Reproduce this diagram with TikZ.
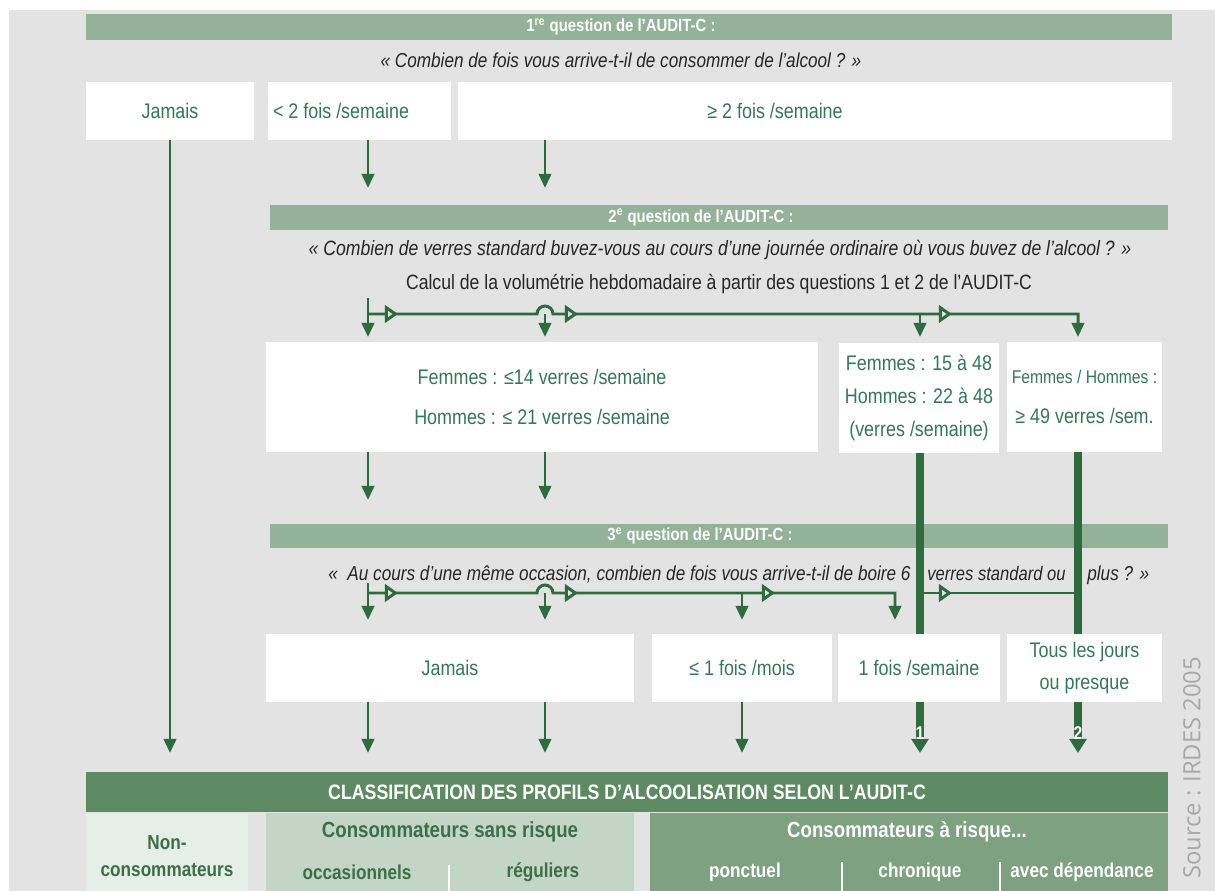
\documentclass[tikz,border=0pt]{standalone}
\usepackage{fontspec}
\setmainfont{Liberation Sans}[FakeStretch=0.85]
\newfontfamily\policesource{Open Sans}
\usetikzlibrary{arrows.meta,decorations.markings}

\definecolor{fond}{HTML}{E2E3E2}
\definecolor{bandeauclair}{HTML}{93B298}
\definecolor{bandeaufonce}{HTML}{5D8A62}
\definecolor{vertfleche}{HTML}{2F6B3F}
\definecolor{verttexte}{HTML}{35775A}
\definecolor{vertbas}{HTML}{3C6E48}
\definecolor{vertpale}{HTML}{E5EFE7}
\definecolor{vertmoyen}{HTML}{C3D6C6}
\definecolor{vertrisque}{HTML}{7DA181}
\definecolor{gristexte}{HTML}{A8A8A8}

\tikzset{
    texteboite/.style={text=verttexte, inner sep=0pt, align=center, font=\fontsize{12}{18}\selectfont},
    boite/.style={rectangle, fill=white, texteboite},
    textebandeau/.style={text=white, inner sep=0pt, font=\fontsize{10}{12}\selectfont\bfseries},
    bandeau/.style={rectangle, fill=bandeauclair, inner sep=0pt},
    question/.style={inner sep=0pt, text=black!85, font=\fontsize{11.5}{13}\selectfont\itshape},
    fleche/.style={draw=vertfleche, line width=1.7pt, -{Triangle[length=8pt,width=7pt]}},
    ligne/.style={draw=vertfleche, line width=1.7pt},
    barre/.style={draw=vertfleche, line width=4.6pt, -{Triangle[length=8pt,width=9.5pt]}},
    pointe/.style={postaction={decorate, decoration={markings,
        mark=at position #1 with {\arrow{Triangle[length=7.5pt,width=10pt,fill=fond]}}}}},
    textebas/.style={inner sep=0pt, align=center, font=\fontsize{11.5}{15}\selectfont\bfseries},
    separateur/.style={draw=white, line width=1.2pt}
}

\begin{document}
\begin{tikzpicture}[x=0.02cm, y=-0.02cm]
    \useasboundingbox (0,0) rectangle (1215,891);
    \fill[fond] (9,10) rectangle (1215,891);

    % colonnes et niveaux
    \coordinate (colJ) at (170,0);
    \coordinate (colA) at (368,0);
    \coordinate (colB) at (545,0);
    \coordinate (colC) at (742,0);
    \coordinate (colG) at (895,0);
    \coordinate (colD) at (920,0);
    \coordinate (colE) at (1078,0);
    \coordinate (pointeA) at (0,188);
    \coordinate (hautB) at (0,298);
    \coordinate (nivB) at (0,314);
    \coordinate (pointeB) at (0,337);
    \coordinate (pointeC) at (0,500);
    \coordinate (hautC) at (0,583);
    \coordinate (nivC) at (0,593);
    \coordinate (pointeD) at (0,620);
    \coordinate (pointeE) at (0,753);

    % 1re question
    \path node[bandeau, minimum width=21.72cm, minimum height=0.52cm,
            label={[textebandeau, xshift=-0.16cm]center:{1\textsuperscript{re} question de l'AUDIT-C :}}] (titreA) at (629,27) {}
        node[question] (questA) at (621,60) {« Combien de fois vous arrive-t-il de consommer de l'alcool ? »}
        node[boite, minimum width=3.36cm, minimum height=1.16cm] (jamaisA) at (170,111) {Jamais}
        node[boite, minimum width=3.66cm, minimum height=1.16cm,
            label={[texteboite, xshift=-0.37cm]center:{< 2 fois /semaine}}] (moinsA) at (359.5,111) {}
        node[boite, minimum width=14.28cm, minimum height=1.16cm,
            label={[texteboite, xshift=-0.8cm]center:{≥ 2 fois /semaine}}] (plusA) at (815,111) {};
    \draw[fleche] (moinsA.south -| colA) -- (colA |- pointeA);
    \draw[fleche] (plusA.south -| colB) -- (colB |- pointeA);

    % 2e question
    \path node[bandeau, minimum width=17.96cm, minimum height=0.5cm,
            label={[textebandeau, xshift=-0.36cm]center:{2\textsuperscript{e} question de l'AUDIT-C :}}] (titreB) at (719,217.5) {}
        node[question, font=\fontsize{11.8}{13}\selectfont\itshape] (questB) at (720,250) {« Combien de verres standard buvez-vous au cours d'une journée ordinaire où vous buvez de l'alcool ? »}
        node[question, font=\fontsize{11.8}{13}\selectfont] (calcul) at (719,284) {Calcul de la volumétrie hebdomadaire à partir des questions 1 et 2 de l'AUDIT-C};
    \draw[fleche] (colA |- hautB) -- (colA |- pointeB);
    \draw[fleche, pointe=0.6cm, pointe=4.383cm, pointe=11.863cm] (colA |- nivB)
        -- ([xshift=-0.16cm]colB |- nivB) arc[start angle=180, end angle=0, radius=0.16cm]
        -- (colE |- nivB) -- (colE |- pointeB);
    \draw[fleche] (colB |- nivB) -- (colB |- pointeB);
    \draw[fleche] (colD |- nivB) -- (colD |- pointeB);
    \path node[boite, minimum width=11.04cm, minimum height=2.2cm, font=\fontsize{12}{22.7}\selectfont] (faibleB) at (542,397)
            {Femmes : ≤14 verres /semaine\\Hommes : ≤ 21 verres /semaine}
        node[boite, minimum width=3.22cm, minimum height=2.2cm, font=\fontsize{12}{18.7}\selectfont] (moyenB) at (919,398)
            {Femmes : 15 à 48\\Hommes : 22 à 48\\(verres /semaine)}
        node[boite, minimum width=3.1cm, minimum height=2.2cm, font=\fontsize{12}{22.7}\selectfont] (fortB) at (1084.5,397)
            {{\fontsize{10.5}{12}\selectfont Femmes / Hommes :}\\≥ 49 verres /sem.};
    \draw[fleche] (faibleB.south -| colA) -- (colA |- pointeC);
    \draw[fleche] (faibleB.south -| colB) -- (colB |- pointeC);

    % 3e question
    \path node[bandeau, minimum width=17.96cm, minimum height=0.48cm,
            label={[textebandeau, xshift=-0.38cm]center:{3\textsuperscript{e} question de l'AUDIT-C :}}] (titreC) at (719,536) {}
        node[question, anchor=base east] (questCa) at (911,581) {«\ \ Au cours d'une même occasion, combien de fois vous arrive-t-il de boire 6}
        node[question, anchor=base west, font=\fontsize{11.1}{13}\selectfont\itshape] (questCb) at (927,581) {verres standard ou}
        node[question, anchor=base west] (questCc) at (1087,581) {plus ? »};
    \draw[fleche] (colA |- hautC) -- (colA |- pointeD);
    \draw[fleche, pointe=0.6cm, pointe=4.383cm, pointe=8.323cm] (colA |- nivC)
        -- ([xshift=-0.16cm]colB |- nivC) arc[start angle=180, end angle=0, radius=0.16cm]
        -- (colG |- nivC) -- (colG |- pointeD);
    \draw[fleche] (colB |- nivC) -- (colB |- pointeD);
    \draw[fleche] (colC |- nivC) -- (colC |- pointeD);
    \draw[ligne, pointe=0.64cm] (colD |- nivC) -- (colE |- nivC);

    % barres 1 et 2
    \draw[barre] (moyenB.south -| colD) -- (colD |- pointeE);
    \draw[barre] (fortB.south -| colE) -- (colE |- pointeE);

    \path node[boite, minimum width=7.36cm, minimum height=1.36cm] (jamaisC) at (450,668) {Jamais}
        node[boite, minimum width=3.6cm, minimum height=1.36cm] (moisC) at (742,668) {≤ 1 fois /mois}
        node[boite, minimum width=3.24cm, minimum height=1.36cm] (semC) at (919,668) {1 fois /semaine}
        node[boite, minimum width=3.1cm, minimum height=1.36cm, font=\fontsize{12}{18.7}\selectfont] (joursC) at (1084.5,668) {Tous les jours\\ou presque}
        node[inner sep=0pt, text=white, font=\fontsize{10.5}{12}\selectfont\bfseries] (un) at (920,733) {1}
        node[inner sep=0pt, text=white, font=\fontsize{10.5}{12}\selectfont\bfseries] (deux) at (1078,733) {2};
    \draw[fleche] (jamaisA.south) -- (colJ |- pointeE);
    \draw[fleche] (jamaisC.south -| colA) -- (colA |- pointeE);
    \draw[fleche] (jamaisC.south -| colB) -- (colB |- pointeE);
    \draw[fleche] (moisC.south) -- (colC |- pointeE);

    % classification
    \path node[rectangle, fill=bandeaufonce, minimum width=21.64cm, minimum height=0.8cm, inner sep=0pt,
            text=white, font=\fontsize{11.9}{13}\selectfont\bfseries] (classif) at (627,792)
            {CLASSIFICATION DES PROFILS D'ALCOOLISATION SELON L'AUDIT-C}
        node[rectangle, fill=vertpale, minimum width=3.24cm, minimum height=1.56cm] (nonD) at (167,852) {}
        node[rectangle, fill=vertmoyen, minimum width=7.36cm, minimum height=1.56cm] (sansD) at (450,852) {}
        node[rectangle, fill=vertrisque, minimum width=10.36cm, minimum height=1.56cm] (risqueD) at (909,852) {}
        node[textebas, text=vertbas, font=\fontsize{11.5}{15.3}\selectfont\bfseries] (nonT) at (167,856) {Non-\\consommateurs}
        node[textebas, text=vertbas, font=\fontsize{12.5}{15}\selectfont\bfseries] (sansT) at (450,832) {Consommateurs sans risque}
        node[textebas, text=vertbas] (occT) at (357,872) {occasionnels}
        node[textebas, text=vertbas] (regT) at (543,872) {réguliers}
        node[textebas, text=white, font=\fontsize{12.5}{15}\selectfont\bfseries] (risqueT) at (907,832) {Consommateurs à risque...}
        node[textebas, text=white] (ponT) at (745,872) {ponctuel}
        node[textebas, text=white] (chrT) at (920,872) {chronique}
        node[textebas, text=white] (depT) at (1082,872) {avec dépendance};
    \draw[separateur] (449,865) -- (449,891);
    \draw[separateur] (842,862) -- (842,891);
    \draw[separateur] (1000,862) -- (1000,891);

    \node[rotate=90, inner sep=0pt, text=gristexte, font=\policesource\fontsize{13.5}{15}\selectfont] (source) at (1192,768) {Source : IRDES 2005};
\end{tikzpicture}
\end{document}
